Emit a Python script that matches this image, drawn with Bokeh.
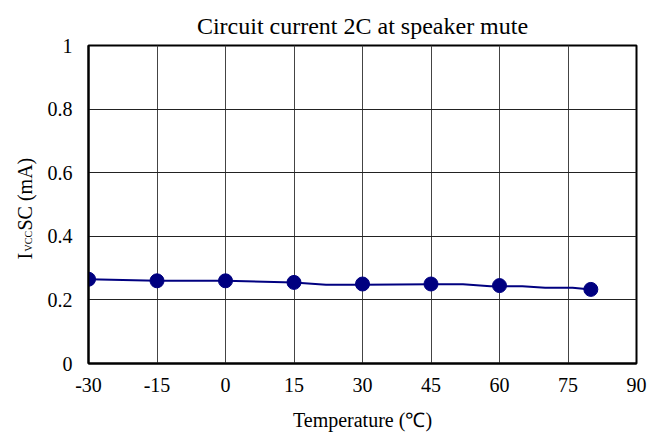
import math
from bokeh.plotting import figure
from bokeh.models import Label, FixedTicker, CustomJSTickFormatter, Range1d
from bokeh.layouts import row
from bokeh.embed import file_html
from bokeh.resources import INLINE

# Data
temps = [-30, -15, 0, 15, 30, 45, 60, 80]
current = [0.265, 0.260, 0.260, 0.255, 0.250, 0.250, 0.245, 0.233]

# Continuous trace (finer measurement)
trace_t = [-30, -15, 0, 15, 22, 30, 45, 52, 58, 65, 70, 76, 80]
trace_i = [0.265, 0.260, 0.260, 0.255, 0.248, 0.248, 0.249, 0.249, 0.243, 0.243, 0.238, 0.238, 0.233]

x_ticks = [-30, -15, 0, 15, 30, 45, 60, 75, 90]
y_ticks = [0, 0.2, 0.4, 0.6, 0.8, 1.0]

title_text = "Circuit current 2C at speaker mute"
x_label = "Temperature (\u2103)"
y_label_main = "I"
y_label_sub = "VCC"
y_label_rest = "SC (mA)"

SERIF = "Liberation Serif"
NAVY = "#000080"
H = 434
STRIP = 40

# Narrow strip holding the vertical axis title (with subscript);
# its frame is aligned with the main plot frame by the row layout.
ylab = figure(width=STRIP, height=H, output_backend="svg", toolbar_location=None,
              x_axis_location=None, y_axis_location=None,
              min_border=0, min_border_left=0, min_border_right=0,
              min_border_top=45, min_border_bottom=71)
ylab.outline_line_color = None
ylab.grid.visible = False
ylab.background_fill_color = "white"
ylab.border_fill_color = "white"
ang = math.pi / 2
ylab.add_layout(Label(x=24, y=104, x_units="screen", y_units="screen", text=y_label_main,
                      angle=ang, text_font=SERIF, text_font_size="20px", text_align="left",
                      text_baseline="alphabetic", text_color="black"))
ylab.add_layout(Label(x=28, y=112, x_units="screen", y_units="screen", text=y_label_sub,
                      angle=ang, text_font=SERIF, text_font_size="10px", text_align="left",
                      text_baseline="alphabetic", text_color="black"))
ylab.add_layout(Label(x=24, y=133, x_units="screen", y_units="screen", text=y_label_rest,
                      angle=ang, text_font=SERIF, text_font_size="20px", text_align="left",
                      text_baseline="alphabetic", text_color="black"))

p = figure(width=650 - STRIP, height=H, output_backend="svg", toolbar_location=None,
           x_range=Range1d(-30, 90), y_range=Range1d(0, 1),
           min_border_left=88 - STRIP, min_border_right=14, min_border_top=45, min_border_bottom=71)
p.background_fill_color = "white"
p.border_fill_color = "white"
p.outline_line_color = "black"
p.outline_line_width = 2

p.title.text = title_text
p.title.text_font = SERIF
p.title.text_font_size = "24px"
p.title.text_font_style = "normal"
p.title.align = "center"
p.title.text_color = "black"
p.title.standoff = 13

for ax in (p.xaxis[0], p.yaxis[0]):
    ax.axis_line_color = "black"
    ax.axis_line_width = 2
    ax.major_tick_out = 0
    ax.major_tick_in = 0
    ax.minor_tick_out = 0
    ax.minor_tick_in = 0
    ax.major_label_text_font = SERIF
    ax.major_label_text_font_size = "20px"
    ax.major_label_text_color = "black"
    ax.major_label_text_line_height = 1.0

p.xaxis.ticker = FixedTicker(ticks=x_ticks)
p.yaxis.ticker = FixedTicker(ticks=y_ticks)
p.xaxis.formatter = CustomJSTickFormatter(code="return String(tick);")
p.yaxis.formatter = CustomJSTickFormatter(code="return String(Math.round(tick*10)/10);")
p.xaxis.major_label_standoff = 14
p.yaxis.major_label_standoff = 16

p.xaxis.axis_label = x_label
p.xaxis.axis_label_text_font = SERIF
p.xaxis.axis_label_text_font_size = "20px"
p.xaxis.axis_label_text_font_style = "normal"
p.xaxis.axis_label_text_color = "black"
p.xaxis.axis_label_text_line_height = 1.0
p.xaxis.axis_label_standoff = 14

p.xgrid.grid_line_color = "#444444"
p.ygrid.grid_line_color = "#222222"
p.xgrid.grid_line_width = 1
p.ygrid.grid_line_width = 1

p.line(trace_t, trace_i, line_color=NAVY, line_width=2)
p.scatter(temps, current, size=14, fill_color=NAVY, line_color=NAVY)

layout = row(ylab, p)
open("out.html", "w").write(file_html(layout, INLINE))
